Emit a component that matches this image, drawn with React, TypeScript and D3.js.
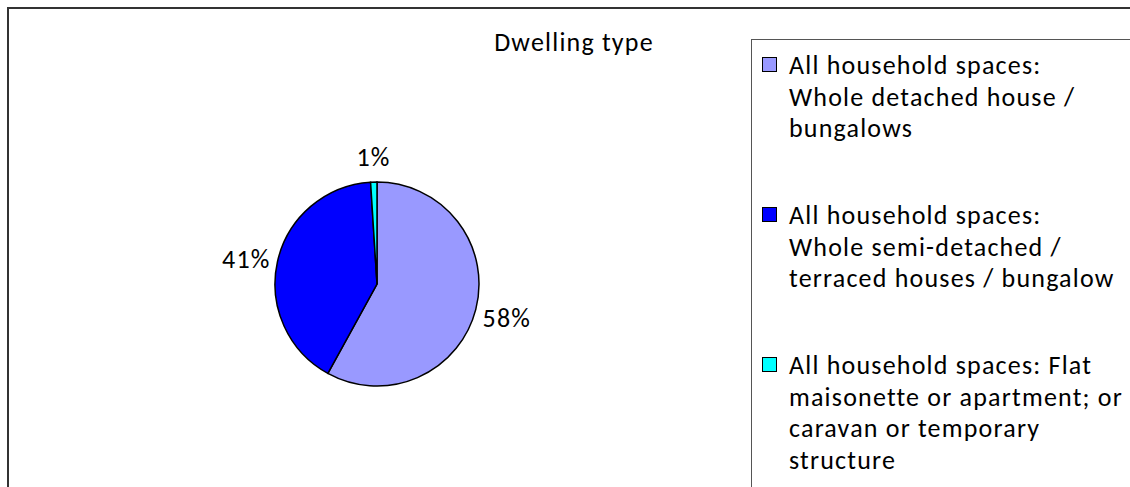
import React from 'react';
import * as d3 from 'd3';

// Dwelling type shares (percent), clockwise from 12 o'clock
const categories = [
  'All household spaces: Whole detached house / bungalows',
  'All household spaces: Whole semi-detached / terraced houses / bungalow',
  'All household spaces: Flat maisonette or apartment; or caravan or temporary structure',
];
const values = [58, 41, 1];
const colors = ['#9999FF', '#0000FF', '#00FFFF'];
const legendLines = [
  ['All household spaces:', 'Whole detached house /', 'bungalows'],
  ['All household spaces:', 'Whole semi-detached /', 'terraced houses / bungalow'],
  ['All household spaces: Flat', 'maisonette or apartment; or', 'caravan or temporary', 'structure'],
];
const title = 'Dwelling type';

const W = 1130;
const H = 487;
const FONT = 'Carlito, Lato, sans-serif';
const FS = 26;
const LS = 1.2;

export default function App() {
  const cx = 377;
  const cy = 284;
  const r = 102;

  const pie = d3
    .pie<number>()
    .sort(null)
    .value((d) => d)
    .startAngle(0)
    .endAngle(2 * Math.PI);
  const arcs = pie(values);
  const arc = d3.arc<d3.PieArcDatum<number>>().innerRadius(0).outerRadius(r);
  const total = d3.sum(values);

  const legendX = 752;
  const legendY = 40;
  const lineH = 31.5;
  const entryH = 150;

  return (
    <svg
      width={W}
      height={H}
      style={{ position: 'absolute', left: 0, top: 0, background: '#fff' }}
      fontFamily={FONT}
      letterSpacing={LS}
    >
      <rect x={0} y={0} width={W} height={H} fill="#fff" />
      {/* chart frame, running past the right and bottom edges */}
      <rect x={8} y={8} width={1400} height={800} fill="none" stroke="#333" strokeWidth={2} />

      <text x={574} y={51} fontSize={FS} textAnchor="middle" fill="#000">
        {title}
      </text>

      <g transform={`translate(${cx},${cy})`}>
        {arcs.map((a, i) => (
          <path key={i} d={arc(a) || ''} fill={colors[i]} stroke="#000" strokeWidth={1.5} />
        ))}
      </g>

      {arcs.map((a, i) => {
        const mid = (a.startAngle + a.endAngle) / 2;
        const s = Math.sin(mid);
        const c = Math.cos(mid);
        const R = r + 7;
        const px = cx + R * s;
        const py = cy - R * c;
        const anchor = s > 0.3 ? 'start' : s < -0.3 ? 'end' : 'middle';
        const ty = py - 18 * c + 3 * Math.abs(s);
        const pct = Math.round((values[i] / total) * 100);
        return (
          <text
            key={i}
            x={px}
            y={ty}
            fontSize={FS}
            textAnchor={anchor}
            dominantBaseline="central"
            fill="#000"
          >
            {`${pct}%`}
          </text>
        );
      })}

      {/* legend box, also running off the edges */}
      <rect x={legendX - 0.5} y={legendY - 0.5} width={600} height={600} fill="#fff" stroke="#555" strokeWidth={1} />
      {categories.map((cat, i) => {
        const base = 74 + i * entryH;
        return (
          <g key={cat}>
            <rect x={762.5} y={base - 16.5} width={14} height={14} fill={colors[i]} stroke="#000" strokeWidth={1} />
            {legendLines[i].map((ln, j) => (
              <text key={j} x={789} y={base + j * lineH} fontSize={FS} fill="#000">
                {ln}
              </text>
            ))}
          </g>
        );
      })}
    </svg>
  );
}
